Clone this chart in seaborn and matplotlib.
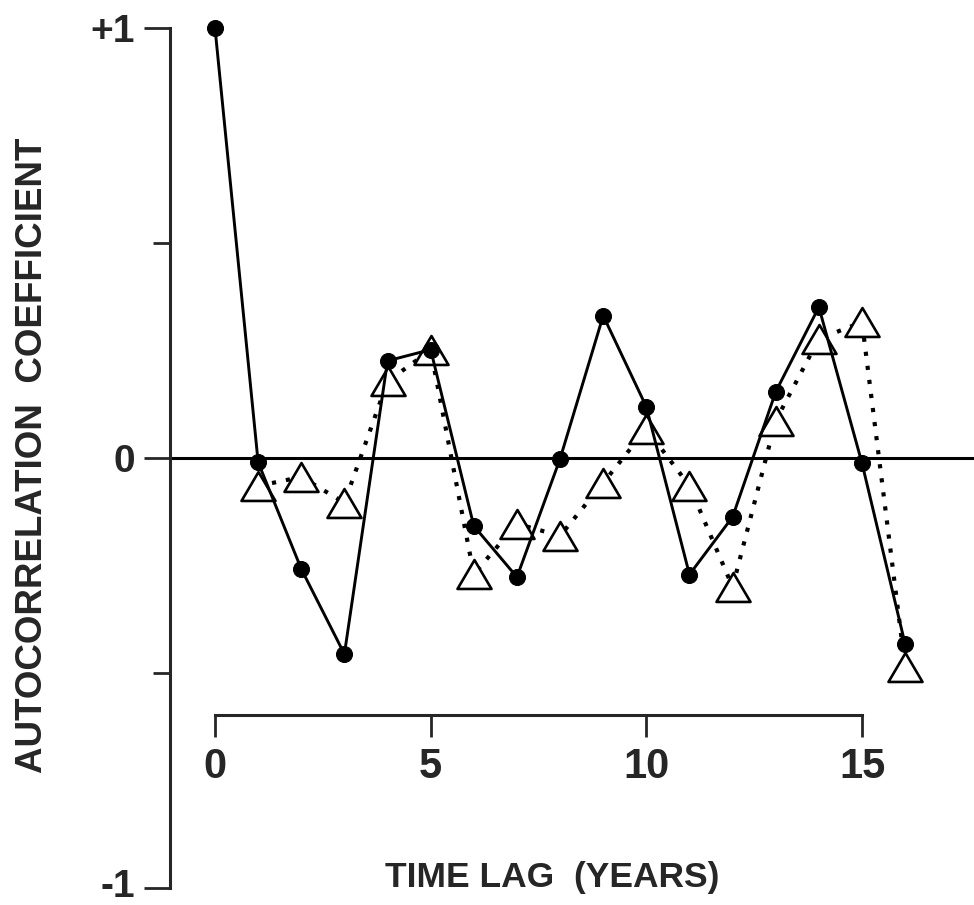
import matplotlib
matplotlib.use("Agg")
import matplotlib.pyplot as plt
from matplotlib.path import Path
from matplotlib.transforms import ScaledTranslation
import seaborn as sns
import pandas as pd

# ---- data ----
lags = [0, 1, 2, 3, 4, 5, 6, 7, 8, 9, 10, 11, 12, 13, 14, 15, 16]
solid_vals = [1.0, -0.01, -0.258, -0.456, 0.226, 0.252, -0.158, -0.277, -0.002,
              0.331, 0.119, -0.271, -0.137, 0.154, 0.351, -0.012, -0.433]
tri_lags = [1, 2, 3, 4, 5, 6, 7, 8, 9, 10, 11, 12, 13, 14, 15, 16]
tri_vals = [-0.065, -0.044, -0.104, 0.178, 0.251, -0.270, -0.153, -0.181, -0.058,
            0.068, -0.065, -0.300, 0.087, 0.277, 0.316, -0.486]
x_ticks = [0, 5, 10, 15]
x_ticklabels = ["0", "5", "10", "15"]
y_major = [-1, 0, 1]
y_major_labels = ["-1", "0", "+1"]
y_minor = [-0.5, 0.5]
x_label = "TIME LAG  (YEARS)"
y_label = "AUTOCORRELATION  COEFFICIENT"

df_solid = pd.DataFrame({"lag": lags, "r": solid_vals})
df_tri = pd.DataFrame({"lag": tri_lags, "r": tri_vals})

sns.set_style("white")
plt.rcParams["font.family"] = ["Liberation Sans", "DejaVu Sans"]
plt.rcParams["font.weight"] = "bold"

W, H = 974, 905
fig = plt.figure(figsize=(W / 100, H / 100), dpi=100)
left_px, right_px, top_px, bot_px = 170, 974, 28, 888
ax = fig.add_axes([left_px / W, (H - bot_px) / H, (right_px - left_px) / W, (bot_px - top_px) / H])

# x scale: lag 0 -> 215 px, lag 15 -> 862 px
px_per = (862 - 215) / 15.0
ax.set_xlim(-(215 - left_px) / px_per, (right_px - 215) / px_per)
ax.set_ylim(-1, 1)

# zero line
ax.axhline(0, color="black", lw=2.2, zorder=1)

tri_marker = Path([(-1, -0.85), (1, -0.85), (0, 0.85), (-1, -0.85)],
                  [Path.MOVETO, Path.LINETO, Path.LINETO, Path.CLOSEPOLY])
sns.lineplot(data=df_tri, x="lag", y="r", ax=ax, color="black", lw=3.0,
             linestyle=(0, (1, 2.4)), marker=tri_marker, markersize=24.5,
             markerfacecolor="white", markeredgecolor="black", markeredgewidth=1.9,
             zorder=2, clip_on=False, sort=False)
sns.lineplot(data=df_solid, x="lag", y="r", ax=ax, color="black", lw=2.1,
             marker="o", markersize=11.5, markerfacecolor="black",
             markeredgecolor="black", zorder=3, clip_on=False, sort=False)

# spines
for s in ["top", "right"]:
    ax.spines[s].set_visible(False)
ax.spines["left"].set_linewidth(2.2)
ax.spines["left"].set_bounds(-1, 1)
ax.spines["bottom"].set_position(("data", (459 - 716) / 430.0))
ax.spines["bottom"].set_bounds(0, 15)
ax.spines["bottom"].set_linewidth(2.2)

ax.set_xticks(x_ticks)
ax.set_xticklabels(x_ticklabels)
ax.set_yticks(y_major)
ax.set_yticklabels(y_major_labels)
ax.set_yticks(y_minor, minor=True)
ax.tick_params(axis="x", direction="out", length=16, width=2.0, pad=7,
               labelsize=30, bottom=True)
ax.tick_params(axis="y", which="major", direction="out", length=19, width=2.0,
               pad=6, labelsize=28, left=True)
ax.tick_params(axis="y", which="minor", direction="out", length=12, width=2.0, left=True)
for t in ax.get_xticklabels() + ax.get_yticklabels():
    t.set_fontweight("bold")

# nudge the "-1" label up slightly so it stays inside the figure
lab = ax.yaxis.get_major_ticks()[0].label1
lab.set_transform(lab.get_transform() + ScaledTranslation(0, 5 / 100, fig.dpi_scale_trans))

ax.set_xlabel(x_label, fontsize=25.5, fontweight="bold")
ax.set_ylabel(y_label, fontsize=26.5, fontweight="bold")
ax.xaxis.label.set_verticalalignment("center")
ax.yaxis.label.set_verticalalignment("center")
ax.xaxis.set_label_coords((552 - left_px) / (right_px - left_px), (bot_px - 877) / (bot_px - top_px))
ax.yaxis.set_label_coords((33 - left_px) / (right_px - left_px), (bot_px - 455) / (bot_px - top_px))

fig.savefig("out.png", dpi=100)
